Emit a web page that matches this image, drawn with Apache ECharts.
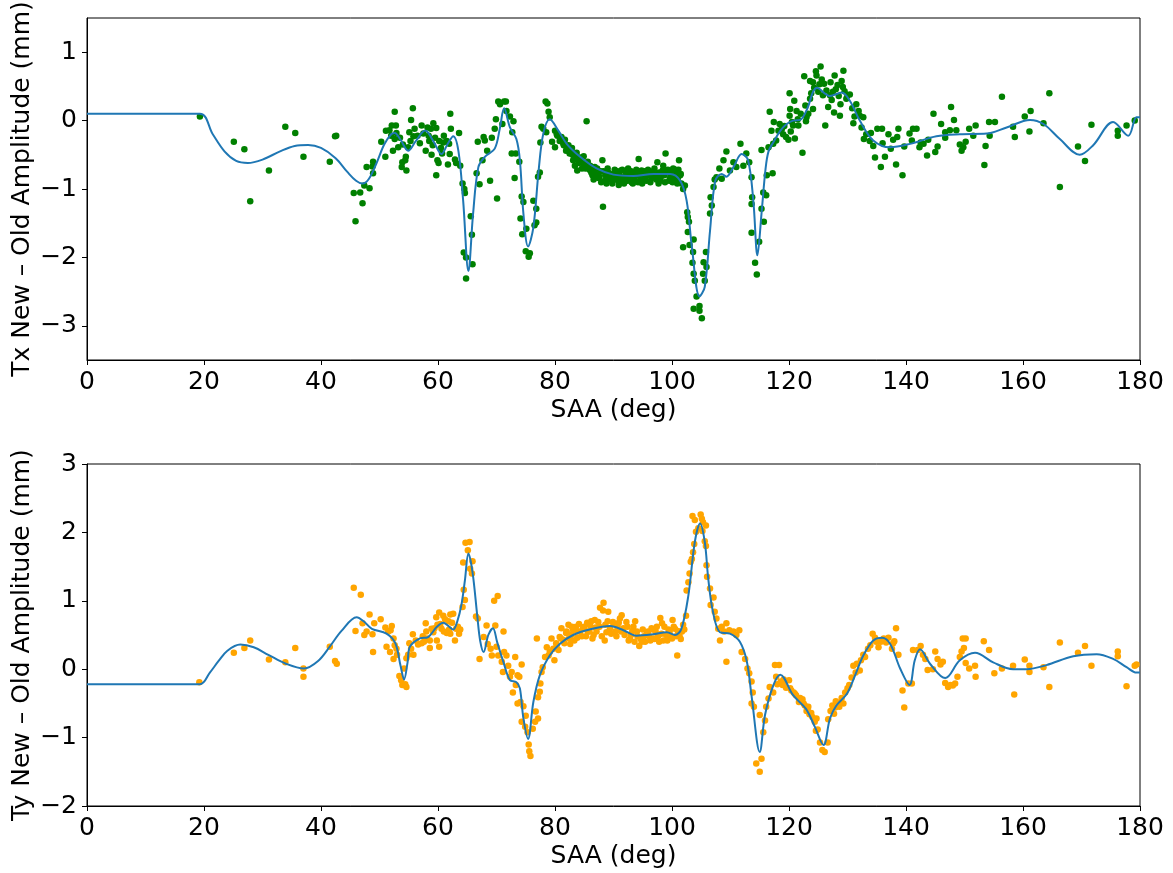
<!DOCTYPE html>
<html>
<head>
<meta charset="utf-8">
<script src="https://cdn.jsdelivr.net/npm/echarts@6/dist/echarts.min.js"></script>
<style>
    html, body { margin: 0; padding: 0; background: #fff; }
    #chart { width: 1173px; height: 873px; }
</style>
</head>
<body>
<div id="chart"></div>
<script>
// x ticks (SAA, deg)
var saaTicks = [0, 20, 40, 60, 80, 100, 120, 140, 160, 180];
var txTicks = [-3, -2, -1, 0, 1];
var tyTicks = [-2, -1, 0, 1, 2, 3];

// Tx measured points: SAA (deg) and amplitude difference (mm)
var txSaa = [
    19.3, 25.1, 26.9, 27.9, 31.1, 33.9, 35.6, 37.0, 41.5, 42.4, 42.6, 45.6, 45.9, 46.7, 47.1, 47.4, 47.8, 48.3, 48.8, 48.9,
    48.9, 50.3, 51.0, 51.1, 51.7, 52.1, 52.6, 52.8, 52.3, 52.6, 53.2, 53.8, 53.9, 54.4, 54.5, 54.6, 54.9, 55.1, 55.4, 55.7,
    55.8, 57.2, 57.9, 58.5, 58.8, 59.2, 59.1, 58.9, 59.7, 59.7, 59.9, 60.1, 60.2, 60.9, 61.5, 61.7, 62.0, 62.1, 62.2, 62.9,
    63.1, 63.6, 63.8, 64.2, 64.5, 64.6, 64.4, 64.8, 64.8, 65.6, 65.8, 65.9, 66.6, 66.8, 67.1,
    67.6, 67.8, 68.0, 68.4, 68.9, 69.2, 69.7, 69.9, 70.1, 70.3, 70.6, 71.0, 71.3, 71.6, 71.7, 72.3, 72.7, 72.9, 72.6, 73.3,
    73.1, 73.9, 74.3, 74.6, 74.1, 74.4, 75.1, 75.0, 75.5, 75.7, 76.5, 76.8, 76.3, 76.8, 77.1, 77.4, 77.5, 77.7, 78.0, 78.4,
    78.7, 78.5, 78.9, 79.1, 79.5, 80.0, 80.3, 80.0, 80.8, 81.1, 81.3, 81.5, 81.9, 82.0, 82.3, 82.6, 82.8, 83.0, 83.1, 83.4,
    83.6, 83.8, 84.0, 84.3, 84.6, 84.8, 85.0, 85.4, 85.7, 85.9, 86.2, 86.4, 86.8, 87.0, 87.4, 87.8, 88.1, 88.2, 88.5, 88.6,
    89.1, 89.3, 89.6, 89.9, 90.2, 90.5, 90.8, 91.0, 91.3, 91.6, 91.9, 92.2, 92.5, 92.8, 93.1, 93.4, 93.7, 94.0, 94.3, 94.6,
    94.8, 95.1, 95.4, 95.7, 96.0, 96.2, 96.5, 96.9, 97.3, 97.5, 97.8, 98.0, 98.4, 98.7, 98.9, 99.2, 99.7, 99.9, 100.2, 100.4,
    100.5, 100.8, 101.0, 101.2, 101.4, 101.6, 101.9, 102.2, 102.6, 102.7, 102.9, 102.7, 103.0, 101.9, 103.7, 103.6, 103.5, 103.7, 103.9, 104.2,
    103.7, 104.7, 104.7, 105.1, 105.3, 105.6, 105.9, 105.4, 105.8, 106.5, 106.8, 106.6, 107.1, 107.3, 107.6, 108.1, 108.5, 108.8, 109.3, 109.9,
    110.5, 111.0, 111.7, 112.2, 112.7, 113.2, 113.6, 113.7, 113.6, 113.6, 114.2, 114.5, 114.9,
    115.3, 115.3, 115.7, 115.6, 116.1, 116.2, 117.2, 116.5, 117.3, 117.8, 117.0, 116.7, 117.4, 118.2, 118.8, 119.0, 119.5, 119.9, 120.3, 120.1,
    120.1, 120.2, 120.9, 121.3, 120.7, 121.6, 121.0, 122.3, 122.9, 123.0, 123.6, 123.3, 124.1, 122.6, 123.6, 124.1, 124.6, 124.7, 125.4, 125.2,
    125.8, 126.0, 126.2, 126.7, 127.0, 127.1, 127.5, 127.7, 127.8, 128.0, 128.7, 128.8, 129.0, 129.3, 129.2, 129.5, 130.0, 130.4, 131.0, 131.5,
    131.9, 132.1, 132.7, 132.4, 132.8, 133.8, 134.4, 134.7, 135.1, 135.7, 135.9, 136.4, 137.0, 137.4, 137.8, 138.3, 138.7, 138.5, 139.4, 139.7,
    140.6, 141.0, 141.2, 141.8, 142.3, 142.5, 143.0, 143.6, 143.8, 144.7, 145.0, 145.4, 146.0, 146.7, 146.7, 147.5, 147.7, 148.2, 148.6, 149.2,
    149.5, 149.8, 150.2, 150.8, 151.5, 151.9, 153.4, 153.6, 154.3, 154.2, 155.2, 156.4, 158.3, 158.6, 160.3, 161.1, 161.3, 163.5, 164.5, 166.3,
    169.4, 170.6, 171.7, 176.2, 176.2, 177.7, 179.1,
    80.4, 80.9, 81.4, 81.7, 82.1, 82.5, 82.9, 83.3, 83.7, 84.1, 84.5, 84.9, 85.2, 85.6, 86.0, 86.5, 86.6, 87.2, 87.6, 87.9,
    88.3, 88.8, 89.0, 89.5, 89.8, 90.1, 90.6, 90.9, 91.2, 91.5, 91.8, 92.1, 92.4, 92.7, 93.0, 93.3, 93.6, 93.9, 94.2, 94.5,
    94.9, 95.3, 95.6, 95.9, 96.3, 96.6, 97.0, 97.4, 97.7, 98.1, 98.5, 98.8, 99.3, 99.5, 99.8, 100.1, 100.6, 100.9, 101.1, 101.5,
    52.0, 52.9, 53.5, 54.0, 55.3, 56.0, 56.5, 56.9, 57.5, 58.2, 58.4, 59.5, 60.5, 61.0, 61.9, 60.7,
    118.4, 119.2, 120.5, 121.5, 122.0, 122.8, 123.8, 124.3, 125.0, 125.6, 126.4, 127.3, 128.3, 128.5, 129.8, 130.8, 131.2, 133.2, 134.0, 136.0
];
var txDiff = [
    0.06, -0.31, -0.42, -1.18, -0.73, -0.09, -0.18, -0.53, -0.60, -0.23, -0.22, -1.06, -1.47, -1.05, -1.21, -0.95, -0.68, -0.99, -0.67, -0.60,
    -0.77, -0.31, -0.53, -0.15, -0.14, -0.07, 0.13, -0.07, -0.44, -0.27, -0.39, -0.68, -0.61, -0.58, -0.53, -0.73, -0.39, -0.17, 0.01, 0.18,
    -0.23, -0.07, -0.44, -0.30, -0.12, -0.04, -0.36, -0.50, -0.11, -0.80, -0.58, -0.62, -0.30, -0.32, -0.30, -0.64, -0.49, 0.10, -0.12, -0.57,
    -0.62, -0.18, -0.66, -0.92, -1.00, -1.06, -1.93, -2.00, -2.31, -1.40, -1.67, -2.10, -0.77, -0.31, -0.93,
    -0.58, -0.24, -0.29, -0.44, -0.88, -0.25, -0.12, 0.02, -1.14, 0.28, 0.24, -0.05, 0.28, 0.28, 0.14, 0.06, -0.17, -0.01, -0.48, -0.48,
    -0.84, -0.60, -1.11, -1.19, -1.43, -1.66, -1.58, -1.91, -1.99, -1.94, -1.53, -1.49, -1.17, -1.29, -0.82, -0.76, -0.32, -0.09, -0.12, 0.28,
    0.25, -0.17, 0.13, 0.05, -0.31, -0.15, -0.20, -0.39, -0.30, -0.24, -0.30, -0.36, -0.44, -0.40, -0.36, -0.42, -0.46, -0.50, -0.58, -0.66,
    -0.55, -0.73, -0.62, -0.54, -0.70, -0.63, -0.66, -0.01, -0.68, -0.72, -0.76, -0.80, -0.68, -0.78, -0.84, -0.74, -0.58, -1.26, -0.88, -0.80,
    -0.76, -0.86, -0.84, -0.78, -0.72, -0.82, -0.88, -0.76, -0.73, -0.86, -0.84, -0.80, -0.70, -0.76, -0.90, -0.84, -0.78, -0.80, -0.56, -0.86,
    -0.73, -0.78, -0.85, -0.80, -0.77, -0.74, -0.84, -0.80, -0.86, -0.61, -0.76, -0.88, -0.73, -0.80, -0.48, -0.75, -0.83, -0.78, -0.70, -0.80,
    -0.85, -0.76, -0.84, -0.58, -0.80, -0.92, -1.00, -0.95, -1.34, -1.41, -1.48, -1.63, -1.82, -1.85, -1.74, -1.92, -2.08, -2.24, -2.34, -2.57,
    -2.75, -2.71, -2.78, -2.89, -2.24, -2.34, -2.14, -2.07, -1.92, -1.36, -1.24, -1.12, -0.97, -0.86, -0.83, -0.70, -0.85, -0.58, -0.45, -0.73,
    -0.61, -0.68, -0.34, -0.66, -0.48, -0.61, -0.83, -1.12, -1.22, -1.64, -2.08, -2.25, -1.77,
    -0.43, -1.29, -1.48, -1.05, -1.09, -0.80, -0.77, -0.39, -0.34, -0.29, -0.15, 0.13, -0.02, -0.15, -0.12, -0.20, -0.24, -0.28, -0.16, 0.07,
    0.40, 0.17, 0.29, 0.14, -0.07, -0.07, -0.26, -0.47, -0.01, 0.05, 0.32, 0.10, 0.17, 0.65, 0.58, 0.56, 0.72, 0.66, 0.79, 0.53,
    0.37, 0.54, -0.07, 0.20, 0.37, 0.56, 0.42, 0.12, 0.66, 0.46, 0.07, 0.24, 0.58, 0.73, 0.49, 0.43, 0.37, 0.38, -0.04, 0.24,
    0.14, 0.07, 0.05, -0.10, -0.27, -0.30, -0.37, -0.54, -0.12, -0.68, -0.12, -0.53, -0.20, -0.41, -0.28, -0.64, -0.12, -0.24, -0.80, -0.38,
    -0.19, -0.29, -0.12, -0.12, -0.39, -0.32, -0.34, -0.51, -0.28, 0.10, -0.46, -0.38, -0.05, -0.17, -0.25, -0.14, 0.20, 0.01, -0.14, -0.35,
    -0.44, -0.39, -0.31, -0.12, -0.22, -0.07, -0.65, -0.37, -0.22, -0.02, -0.02, 0.35, -0.09, -0.24, 0.06, -0.16, 0.14, -0.04, 0.40, -0.97,
    -0.38, -0.59, -0.06, -0.15, -0.22, -0.07, 0.00,
    -0.22, -0.26, -0.33, -0.28, -0.37, -0.48, -0.40, -0.52, -0.47, -0.57, -0.61, -0.52, -0.70, -0.60, -0.66, -0.72, -0.86, -0.70, -0.82, -0.90,
    -0.74, -0.92, -0.70, -0.80, -0.92, -0.86, -0.74, -0.94, -0.82, -0.72, -0.92, -0.76, -0.88, -0.82, -0.74, -0.92, -0.86, -0.72, -0.90, -0.78,
    -0.92, -0.74, -0.88, -0.72, -0.90, -0.76, -0.70, -0.78, -0.92, -0.82, -0.66, -0.90, -0.72, -0.88, -0.74, -0.90, -0.72, -0.92, -0.72, -0.78,
    -0.22, -0.18, -0.25, -0.35, -0.30, -0.12, -0.22, -0.33, -0.19, -0.10, -0.22, -0.25, -0.40, -0.22, -0.34, -0.48,
    -0.05, -0.08, -0.02, 0.02, 0.10, 0.22, 0.40, 0.48, 0.42, 0.60, 0.44, 0.30, 0.52, 0.36, 0.32, 0.18, 0.06, -0.20, -0.18, -0.33
];

// Tx fitted curve
var txFitSaa = [
    0, 19.3, 21.5, 23.5, 25.5, 27.5, 30, 33, 35.5, 37.8, 40, 42.5, 44.5, 46, 47.1, 48.2, 49.5, 50.8, 52.0, 52.6,
    53.6, 54.9, 56.2, 57.8, 59.2, 60.6, 61.6, 62.6, 63.5, 64.3, 65.2, 66.0, 66.9, 68.0, 69.7, 70.6, 71.3, 72.3, 73.4, 74.0,
    74.6, 75.4, 76.3, 77.2, 78.0, 79.1, 80.6, 82.0, 84.3, 87.1, 90.0, 93.4, 96.8, 99.7, 101.4, 102.5, 103.4, 104.7, 105.6, 106.5,
    107.4, 108.5, 109.3, 110.5, 111.9, 113.0, 113.9, 114.6, 115.3, 116.0, 116.5, 117.3, 118.5, 119.6, 120.7, 121.9, 123.0, 124.8, 127.0, 129.0,
    130.4, 132.1, 134.4, 137.3, 140.7, 145.2, 149.2, 153.8, 157.2, 161.2, 163.5, 166.3, 169.7, 172.0, 175.4, 178.0, 179.4, 180
];
var txFit = [
    0.10, 0.10, -0.20, -0.45, -0.59, -0.62, -0.57, -0.45, -0.37, -0.355, -0.40, -0.55, -0.75, -0.88, -0.92, -0.85, -0.62, -0.35, -0.20, -0.18,
    -0.28, -0.44, -0.30, -0.146, -0.30, -0.49, -0.35, -0.23, -0.45, -1.17, -2.20, -1.36, -0.68, -0.53, -0.41, -0.10, 0.18, -0.10, -0.27, -0.58,
    -1.36, -1.84, -1.56, -0.73, -0.19, 0.02, -0.15, -0.34, -0.53, -0.70, -0.79, -0.81, -0.78, -0.78, -0.88, -1.17, -1.85, -2.57, -2.43, -1.61,
    -0.88, -0.78, -0.82, -0.68, -0.49, -0.58, -1.17, -1.97, -1.36, -0.70, -0.45, -0.32, -0.15, -0.05, 0.00, 0.01, 0.15, 0.48, 0.36, 0.41,
    0.29, 0.00, -0.29, -0.39, -0.34, -0.23, -0.20, -0.19, -0.10, 0.01, -0.05, -0.27, -0.50, -0.36, -0.02, -0.22, 0.05, 0.05
];

// Ty measured points
var tySaa = [
    19.2, 25.1, 26.9, 27.9, 31.1, 33.9, 35.6, 37.0, 37.0, 41.5, 42.4, 42.7, 45.6, 46.8, 45.9, 47.1, 47.4, 47.8, 48.3, 48.8,
    48.9, 49.1, 50.2, 51.0, 51.2, 51.5, 51.9, 52.1, 51.8, 52.4, 52.4, 52.6, 52.9, 53.0, 53.4, 53.7, 53.9, 54.4, 54.6, 54.2,
    54.6, 54.9, 55.1, 55.7, 55.8, 57.2, 57.9, 58.1, 58.6, 58.6, 58.9, 59.2, 59.7, 59.8, 59.9, 60.2, 60.2, 60.6, 60.9, 61.2,
    61.5, 61.8, 62.1, 62.1, 62.6, 62.9, 63.1, 63.6, 63.8, 64.2, 64.4, 64.6, 64.3, 64.7, 65.1, 65.4, 65.5, 65.8, 65.9, 66.5,
    66.8, 67.1,
    67.8, 68.3, 68.5, 69.0, 69.2, 69.6, 70.2, 69.8, 70.0, 70.3, 70.9, 71.2, 71.3, 71.7, 71.1, 72.0, 72.3, 72.6, 72.8, 73.2,
    73.3, 73.6, 73.9, 74.3, 73.6, 74.1, 74.6, 75.0, 74.3, 74.9, 75.3, 75.5, 75.6, 75.8, 76.2, 76.6, 76.7, 77.1, 77.1, 77.4,
    77.5, 77.7, 77.9, 78.3, 78.6, 78.9, 79.1, 79.4, 79.7, 79.9, 76.9, 80.3, 80.8, 81.1, 81.4, 81.9, 82.3, 82.6, 82.8, 83.1,
    83.6, 83.8, 84.3, 84.8, 85.3, 85.5, 85.9, 86.2, 86.6, 86.9, 87.4, 87.7, 88.3, 88.2, 88.5, 88.8, 89.1, 89.4, 89.9, 90.3,
    90.7, 91.1, 91.4, 91.7, 92.2, 92.6, 93.0, 93.4, 93.7, 94.1, 94.4, 94.8, 95.2, 95.7, 96.1, 96.5, 96.8, 97.2, 97.6, 98.0,
    98.3, 98.5, 99.0, 99.4, 99.8, 100.1, 100.5, 100.9, 101.3, 101.7, 102.1, 102.4, 102.5, 102.8, 103.0, 103.2, 103.4, 103.6, 103.8, 103.5,
    103.9, 104.5, 104.1, 104.9, 105.1, 105.3, 105.2, 105.6, 105.8, 105.8, 105.9, 106.0, 106.5, 106.6, 107.1, 107.3, 107.6, 107.9, 108.2, 108.5,
    108.9, 109.3, 109.3, 109.8, 110.5, 111.0, 111.5, 111.9, 112.5, 112.9, 113.2, 113.6, 113.8, 113.6, 114.0, 114.4,
    115.0, 115.3, 115.0, 115.6, 115.9, 116.1, 116.5, 116.7, 117.3, 117.6, 117.8, 118.0, 118.3, 118.6, 118.9, 119.1, 119.5, 120.0, 120.4, 120.8,
    121.2, 121.7, 122.3, 122.7, 123.0, 123.3, 123.5, 124.0, 124.4, 124.7, 124.6, 125.3, 125.7, 126.1, 126.6, 126.7, 127.1, 127.4, 127.7, 128.0,
    128.6, 129.0, 129.3, 129.6, 130.3, 131.0, 131.6, 132.1, 132.3, 132.7, 133.0, 133.9, 134.3, 134.7, 135.3, 135.7, 136.6, 137.0, 137.6, 138.0,
    138.3, 138.7, 139.4, 139.7, 140.4, 141.0, 141.2, 142.0, 142.5, 142.9, 143.3, 143.7, 144.6, 145.0, 145.4, 145.9, 146.3, 146.7, 147.2, 147.6,
    148.0, 148.4, 148.8, 149.2, 149.5, 149.7, 150.2, 149.9, 150.2, 150.8, 151.8, 151.9, 153.3, 154.2, 155.1, 156.4, 158.3, 158.5, 160.3, 161.1,
    161.1, 163.5, 164.5, 166.3, 169.4, 170.6, 171.7, 176.2, 176.2, 177.7, 179.1, 179.4,
    80.2, 80.6, 81.0, 81.6, 82.0, 82.4, 82.9, 83.3, 83.9, 84.1, 84.6, 85.0, 85.6, 86.0, 86.4, 86.8, 87.1, 87.6, 88.0, 88.6,
    89.0, 89.6, 90.0, 90.5, 90.9, 91.3, 91.9, 92.4, 92.8, 93.2, 93.6, 94.0, 94.6, 95.0, 95.4, 95.9, 96.3, 96.7, 97.0, 97.4,
    97.8, 98.2, 98.7, 99.2, 99.6, 100.0, 100.3, 100.7, 101.0, 101.5, 101.9,
    55.4, 56.2, 56.6, 57.4, 57.6, 58.0, 59.4, 60.4, 61.0, 61.9, 62.4, 63.4,
    119.3, 120.2, 121.0, 121.9, 122.5, 123.2, 123.8, 124.9, 127.9, 128.9, 130.0, 130.7, 131.4, 133.5, 134.9, 136.2, 137.8
];
var tyDiff = [
    -0.19, 0.24, 0.31, 0.42, 0.14, 0.10, 0.31, 0.01, -0.11, 0.33, 0.12, 0.08, 1.19, 1.09, 0.56, 0.67, 0.50, 0.55, 0.80, 0.51,
    0.25, 0.67, 0.73, 0.61, 0.33, 0.55, 0.57, 0.63, 0.25, 0.45, 0.15, 0.35, 0.30, 0.21, -0.10, -0.16, -0.23, -0.22, -0.26, 0.01,
    0.16, 0.21, 0.38, 0.51, 0.21, 0.38, 0.67, 0.45, 0.31, 0.42, 0.59, 0.54, 0.76, 0.42, 0.65, 0.83, 0.33, 0.59, 0.78, 0.73,
    0.53, 0.70, 0.80, 0.52, 0.81, 0.42, 0.59, 0.52, 0.58, 0.91, 1.16, 1.01, 1.56, 1.85, 1.74, 1.86, 1.47, 1.40, 1.58, 0.77,
    0.74, 0.15,
    0.47, 0.64, 0.37, 0.30, 0.20, 1.00, 1.07, 0.64, 0.33, 0.20, 0.11, 0.55, 0.25, 0.20, -0.04, 0.05, -0.11, -0.04, -0.34, 0.18,
    -0.23, -0.09, -0.11, 0.07, -0.50, -0.48, -0.54, -0.68, -0.77, -0.84, -0.92, -1.10, -1.20, -1.27, -0.87, -0.77, -0.62, -0.72, -0.41, -0.33,
    -0.21, -0.04, 0.03, 0.18, 0.32, 0.20, 0.25, 0.45, 0.30, 0.13, 0.45, 0.35, 0.47, 0.60, 0.43, 0.53, 0.65, 0.37, 0.50, 0.57,
    0.62, 0.46, 0.55, 0.60, 0.48, 0.68, 0.55, 0.70, 0.50, 0.61, 0.69, 0.90, 0.97, 0.86, 0.42, 0.54, 0.84, 0.60, 0.69, 0.55,
    0.62, 0.74, 0.79, 0.60, 0.69, 0.42, 0.50, 0.62, 0.70, 0.48, 0.34, 0.40, 0.48, 0.52, 0.48, 0.60, 0.45, 0.55, 0.48, 0.75,
    0.67, 0.42, 0.50, 0.58, 0.48, 0.72, 0.59, 0.20, 0.48, 0.55, 0.58, 0.78, 1.15, 1.27, 1.40, 1.57, 1.61, 1.71, 1.83, 2.24,
    2.18, 2.06, 2.01, 2.26, 2.20, 2.15, 2.02, 1.87, 2.10, 1.80, 1.52, 1.35, 1.18, 0.94, 1.05, 0.84, 0.74, 0.59, 0.42, 0.62,
    0.55, 0.67, 0.11, 0.57, 0.55, 0.50, 0.57, 0.25, 0.15, 0.01, -0.06, -0.18, -0.34, -0.50, -0.55, -1.38,
    -0.67, -1.31, -1.50, -0.92, -0.75, -0.55, -0.43, -0.26, -0.34, 0.06, -0.11, -0.22, 0.06, -0.18, -0.23, -0.15, -0.27, -0.16, -0.31, -0.34,
    -0.38, -0.48, -0.44, -0.53, -0.61, -0.55, -0.66, -0.70, -0.77, -0.72, -0.90, -1.07, -1.18, -1.21, -1.07, -0.73, -0.61, -0.53, -0.65, -0.47,
    -0.55, -0.42, -0.50, -0.34, -0.23, 0.05, 0.08, -0.02, 0.13, 0.21, 0.18, 0.35, 0.52, 0.46, 0.32, 0.40, 0.39, 0.46, 0.30, 0.41,
    0.60, 0.21, -0.31, -0.56, -0.21, -0.21, 0.28, 0.28, 0.34, 0.21, 0.15, -0.01, 0.00, 0.26, 0.15, 0.07, 0.11, -0.20, -0.26, -0.23,
    -0.24, -0.21, -0.11, 0.18, 0.26, 0.45, 0.45, 0.31, 0.09, 0.01, 0.05, -0.11, 0.41, 0.28, -0.06, 0.01, 0.05, -0.37, 0.14, 0.05,
    -0.04, 0.03, -0.26, 0.39, 0.24, 0.34, 0.05, 0.26, 0.19, -0.25, 0.05, 0.07,
    0.38, 0.28, 0.45, 0.38, 0.55, 0.45, 0.62, 0.42, 0.55, 0.66, 0.48, 0.62, 0.55, 0.64, 0.45, 0.72, 0.55, 0.62, 0.48, 0.65,
    0.70, 0.52, 0.66, 0.48, 0.68, 0.55, 0.50, 0.62, 0.44, 0.56, 0.40, 0.55, 0.45, 0.58, 0.40, 0.55, 0.42, 0.58, 0.44, 0.62,
    0.40, 0.52, 0.62, 0.42, 0.55, 0.45, 0.62, 0.48, 0.56, 0.44, 0.65,
    0.30, 0.42, 0.36, 0.48, 0.40, 0.55, 0.60, 0.66, 0.55, 0.58, 0.68, 0.62,
    -0.22, -0.28, -0.36, -0.42, -0.50, -0.60, -0.64, -0.88, -0.56, -0.48, -0.28, -0.12, -0.05, 0.30, 0.40, 0.45, 0.38
];

// Ty fitted curve
var tyFitSaa = [
    0, 19.3, 21, 22.5, 24, 26.2, 28.5, 31, 34, 37.1, 39.5, 41.5, 43.5, 46.1, 47.3, 48.7, 51.2, 52.7, 53.6, 54.2,
    54.8, 55.2, 56.9, 58.3, 59.8, 60.9, 61.8, 62.6, 63.3, 64.0, 64.6, 65.2, 65.9, 66.7, 67.2, 67.8, 68.6, 69.4, 70.1, 71.2,
    72.3, 73.4, 74.0, 74.6, 75.4, 76.3, 77.4, 79.1, 80.8, 83.1, 85.9, 89.4, 91.7, 93.9, 96.8, 99.1, 100.5, 101.6, 102.8, 103.9,
    104.8, 105.6, 106.2, 107.0, 108.2, 109.9, 111.6, 112.8, 113.6, 115.0, 115.9, 117.3, 118.5, 120.7, 122.9, 124.4, 125.9, 127.0, 128.1, 129.9,
    131.3, 132.7, 134.4, 135.9, 137.3, 139.0, 140.6, 141.5, 142.4, 144.1, 146.7, 149.2, 151.8, 154.9, 158.3, 160.6, 164.0, 168.6, 172.6, 175.4,
    177.7, 179.4, 180
];
var tyFit = [
    -0.22, -0.22, -0.05, 0.12, 0.27, 0.36, 0.32, 0.21, 0.08, 0.01, 0.12, 0.33, 0.56, 0.76, 0.70, 0.59, 0.52, 0.38, 0.05, -0.15,
    0.10, 0.33, 0.45, 0.47, 0.62, 0.68, 0.63, 0.58, 0.70, 0.94, 1.30, 1.69, 1.42, 0.79, 0.42, 0.25, 0.50, 0.60, 0.40, 0.10,
    -0.16, -0.19, -0.28, -0.72, -1.02, -0.48, -0.09, 0.20, 0.37, 0.50, 0.58, 0.63, 0.57, 0.49, 0.51, 0.54, 0.50, 0.59, 1.08, 1.86,
    2.13, 1.86, 1.32, 0.84, 0.54, 0.52, 0.40, 0.11, -0.39, -1.21, -0.67, -0.24, -0.08, -0.38, -0.58, -0.84, -1.11, -0.72, -0.53, -0.36,
    -0.09, 0.20, 0.42, 0.46, 0.37, 0.01, -0.23, 0.13, 0.29, 0.08, -0.13, 0.13, 0.24, 0.10, 0.00, 0.00, 0.06, 0.19, 0.22, 0.15,
    0.03, -0.05, -0.05
];

function pairs(xs, ys) {
    var out = [];
    for (var i = 0; i < xs.length; i++) {
        out.push([xs[i], ys[i]]);
    }
    return out;
}

function minusSign(v) {
    return String(v).replace('-', '\u2212');
}

var font = 'DejaVu Sans';

function xAxisFor(grid) {
    return {
        type: 'value',
        gridIndex: grid,
        min: 0,
        max: 180,
        interval: 20,
        name: 'SAA (deg)',
        nameLocation: 'middle',
        nameGap: 38,
        nameMoveOverlap: false,
        nameTextStyle: { fontFamily: font, fontSize: 25, color: '#000' },
        axisLine: { show: true, onZero: false, lineStyle: { color: '#000', width: 1 } },
        axisTick: { show: true, length: 5, lineStyle: { color: '#000' }, customValues: saaTicks },
        axisLabel: { fontFamily: font, fontSize: 25, color: '#000', margin: 10, customValues: saaTicks, formatter: minusSign },
        splitLine: { show: false }
    };
}

function yAxisFor(grid, name, min, max, ticks) {
    return {
        type: 'value',
        gridIndex: grid,
        min: min,
        max: max,
        name: name,
        nameLocation: 'middle',
        nameRotate: 90,
        nameGap: 52,
        nameMoveOverlap: false,
        nameTextStyle: { fontFamily: font, fontSize: 25, color: '#000' },
        axisLine: { show: true, onZero: false, lineStyle: { color: '#000', width: 1 } },
        axisTick: { show: true, length: 5, lineStyle: { color: '#000' }, customValues: ticks },
        axisLabel: { fontFamily: font, fontSize: 25, color: '#000', margin: 10, customValues: ticks, formatter: minusSign },
        splitLine: { show: false }
    };
}

var option = {
    animation: false,
    backgroundColor: '#fff',
    grid: [
        { left: 87, top: 18, width: 1053, height: 342, show: true, borderColor: '#000', borderWidth: 1, outerBoundsMode: 'none', containLabel: false },
        { left: 87, top: 464, width: 1053, height: 342, show: true, borderColor: '#000', borderWidth: 1, outerBoundsMode: 'none', containLabel: false }
    ],
    xAxis: [xAxisFor(0), xAxisFor(1)],
    yAxis: [
        yAxisFor(0, 'Tx New \u2013 Old Amplitude (mm)', -3.5, 1.5, txTicks),
        yAxisFor(1, 'Ty New \u2013 Old Amplitude (mm)', -2, 3, tyTicks)
    ],
    series: [
        {
            type: 'scatter',
            xAxisIndex: 0,
            yAxisIndex: 0,
            symbolSize: 6.5,
            itemStyle: { color: '#008000', opacity: 1 },
            data: pairs(txSaa, txDiff),
            z: 2
        },
        {
            type: 'line',
            xAxisIndex: 0,
            yAxisIndex: 0,
            showSymbol: false,
            smooth: 0.35,
            lineStyle: { color: '#1f77b4', width: 2 },
            data: pairs(txFitSaa, txFit),
            z: 3
        },
        {
            type: 'scatter',
            xAxisIndex: 1,
            yAxisIndex: 1,
            symbolSize: 6.5,
            itemStyle: { color: '#ffa500', opacity: 1 },
            data: pairs(tySaa, tyDiff),
            z: 2
        },
        {
            type: 'line',
            xAxisIndex: 1,
            yAxisIndex: 1,
            showSymbol: false,
            smooth: 0.35,
            lineStyle: { color: '#1f77b4', width: 2 },
            data: pairs(tyFitSaa, tyFit),
            z: 3
        }
    ]
};

var myChart = echarts.init(document.getElementById('chart'));
myChart.setOption(option);
</script>
</body>
</html>
